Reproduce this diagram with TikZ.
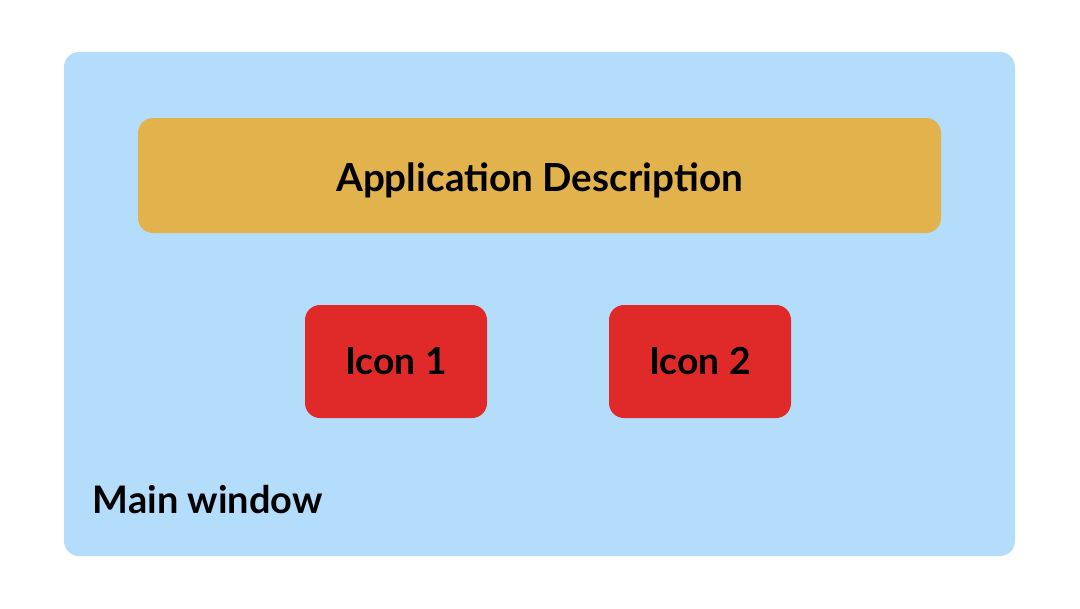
\documentclass[tikz,border=0pt]{standalone}
\usepackage{fontspec}
\setmainfont{Lato}
\usepackage{tikz}
\usetikzlibrary{positioning}
\usepackage{xcolor}
\definecolor{winblue}{RGB}{179,221,251}
\definecolor{descgold}{RGB}{226,178,76}
\definecolor{iconred}{RGB}{224,42,42}
\tikzset{box/.style={rounded corners=0.15cm, inner sep=0pt, font=\bfseries}}

\begin{document}
\begin{tikzpicture}
\useasboundingbox (0,0) rectangle (10.8,6.08);
\node[box, fill=winblue, minimum width=9.51cm, minimum height=5.04cm] (mainwin) at (5.395,3.04) {};
\node[box, fill=descgold, minimum width=8.03cm, minimum height=1.15cm] (appdesc) at (5.395,4.325) {};
\node[inner sep=0pt, font=\bfseries\fontsize{11}{14}\selectfont] (desctext) at ([yshift=-0.05cm]appdesc.center) {Application Description};
\foreach \n/\x in {1/3.96, 2/7.00} {
\node[box, fill=iconred, minimum width=1.82cm, minimum height=1.13cm, font=\bfseries\fontsize{10.6}{13}\selectfont] (icon\n) at (\x,2.465) {Icon \n};
}
\node[anchor=west, inner sep=0pt, font=\bfseries\fontsize{10.8}{13}\selectfont] (mainlabel) at (0.92,1.08) {Main window};
\end{tikzpicture}
\end{document}
